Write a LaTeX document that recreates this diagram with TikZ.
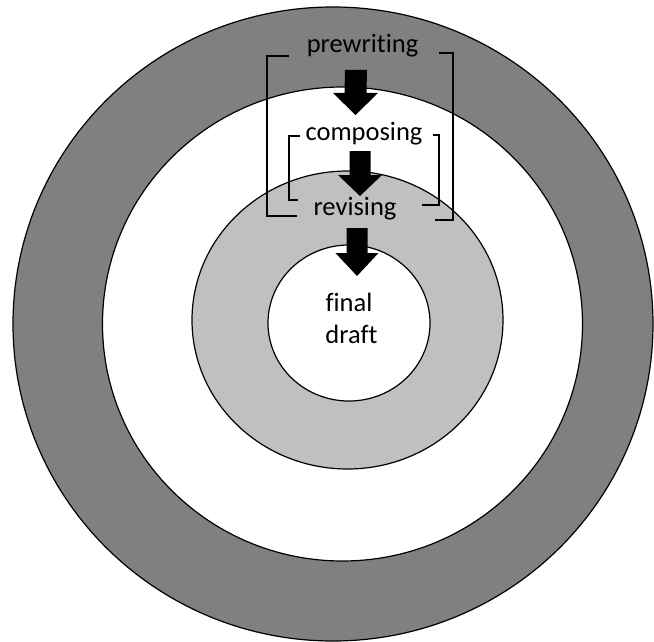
\documentclass[tikz,border=0pt]{standalone}
\usepackage{fontspec}
\setmainfont{Carlito}[Ligatures=CommonOff]
\usetikzlibrary{calc}
\definecolor{darkring}{RGB}{128,128,128}
\definecolor{lightring}{RGB}{192,192,192}
\tikzset{
  ring/.style={draw=black,line width=1.2pt},
  lbl/.style={anchor=base,inner sep=0pt,font=\fontsize{26.5}{30}\selectfont,text=black},
  bracket/.style={draw=black,line width=1.2pt},
  blockfill/.style={fill=black}
}
\begin{document}
\begin{tikzpicture}[x=1pt,y=-1pt]
\useasboundingbox (0,0) rectangle (654,642);
% rings
\path[ring,fill=darkring] (333,324) ellipse [x radius=320pt,y radius=317pt];
\path[ring,fill=white] (342.5,324) ellipse [x radius=240pt,y radius=237pt];
\path[ring,fill=lightring] (347.5,320) ellipse [x radius=155.5pt,y radius=149pt];
\path[ring,fill=white] (349,323) ellipse [x radius=81pt,y radius=78pt];
% labels
\node[lbl] (pre) at (362.5,53) {prewriting};
\node[lbl] (comp) at (364,140.5) {composing};
\node[lbl] (rev) at (355,215) {revising};
\node[lbl] (fin) at (349,311.5) {final};
\node[lbl] (dra) at (351.5,343) {draft};
% brackets
\draw[bracket] (289,56) -- (267,56) -- (267,216) -- (297,216);
\draw[bracket] (439,53) -- (453,53) -- (453,220) -- (435,220);
\draw[bracket] (300,136) -- (289,136) -- (289,200) -- (298,200);
\draw[bracket] (433,135) -- (439,135) -- (439,205) -- (422,205);
% block arrows
\coordinate (a1top) at (356,70);
\coordinate (a1tip) at (355.5,115);
\coordinate (a2top) at (360,151);
\coordinate (a2tip) at (360,196);
\coordinate (a3top) at (357,228);
\coordinate (a3tip) at (357,276);
\fill[blockfill] ($(a1top)+(-11,0)$) -- ($(a1top)+(11,0)$) -- ($(a1tip)+(11,-22)$) -- ($(a1tip)+(22.5,-22)$) -- (a1tip) -- ($(a1tip)+(-22.5,-22)$) -- ($(a1tip)+(-11,-22)$) -- cycle;
\fill[blockfill] ($(a2top)+(-10.5,0)$) -- ($(a2top)+(10.5,0)$) -- ($(a2tip)+(10.5,-21)$) -- ($(a2tip)+(22,-21)$) -- (a2tip) -- ($(a2tip)+(-22,-21)$) -- ($(a2tip)+(-10.5,-21)$) -- cycle;
\fill[blockfill] ($(a3top)+(-10.5,0)$) -- ($(a3top)+(10.5,0)$) -- ($(a3tip)+(10.5,-23)$) -- ($(a3tip)+(21.5,-23)$) -- (a3tip) -- ($(a3tip)+(-21.5,-23)$) -- ($(a3tip)+(-10.5,-23)$) -- cycle;
\end{tikzpicture}
\end{document}
